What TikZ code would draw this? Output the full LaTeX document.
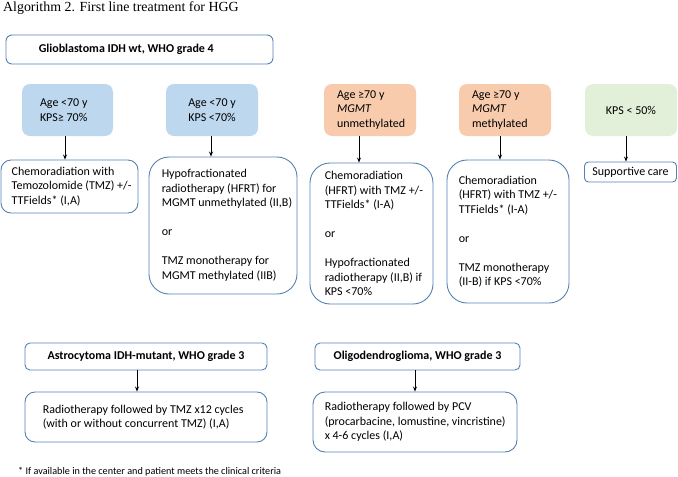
\documentclass[tikz,border=0pt]{standalone}
\usepackage{fontspec}
\setmainfont{Carlito}
\newfontfamily\timesf{Liberation Serif}
\usetikzlibrary{arrows.meta}
\definecolor{bord}{RGB}{84,128,178}
\definecolor{bluef}{RGB}{189,215,238}
\definecolor{orangef}{RGB}{248,203,173}
\definecolor{greenf}{RGB}{226,240,217}
\begin{document}
\begin{tikzpicture}[x=1pt,y=-1pt,
  every node/.style={font=\fontsize{12}{14.5}\selectfont, inner sep=0pt},
  box/.style={draw=bord, line width=0.9pt, rounded corners=#1},
  box/.default=5pt,
  cond/.style={rounded corners=8pt, draw=none, fill=#1},
  txt/.style={align=left, anchor=west},
  hdr/.style={font=\fontsize{12}{14.5}\selectfont\bfseries},
  arr/.style={-{Stealth[length=5pt,width=4pt]}, line width=0.8pt, black},
]
\useasboundingbox (0,0) rectangle (678,477);

% title
\node[anchor=base west, font=\fontsize{13.9}{16}\selectfont\timesf] (title) at (3,11.5) {Algorithm 2. First line treatment for HGG};

% Glioblastoma header
\node[box=6pt, minimum width=267pt, minimum height=29pt] (glio) at (139.5,49.5) {};
\node[txt, hdr] (gliot) at ([xshift=33pt]glio.west) {Glioblastoma IDH wt, WHO grade 4};

% condition boxes
\node[cond=bluef, minimum width=91pt, minimum height=52pt] (c1) at (67.5,110) {};
\node[txt] (c1t) at ([xshift=18pt]c1.west) {Age <70 y\\KPS≥ 70\%};
\node[cond=bluef, minimum width=92pt, minimum height=52pt, align=center] (c2) at (212,110) {Age <70 y\\KPS <70\%};
\node[cond=orangef, minimum width=92pt, minimum height=52pt] (c3) at (370,110) {};
\node[txt] (c3t) at ([xshift=13pt]c3.west) {Age ≥70 y\\\textit{MGMT}\\unmethylated};
\node[cond=orangef, minimum width=92pt, minimum height=52pt] (c4) at (505,110) {};
\node[txt] (c4t) at ([xshift=13pt]c4.west) {Age ≥70 y\\\textit{MGMT}\\methylated};
\node[cond=greenf, minimum width=92pt, minimum height=52pt] (c5) at (631,110) {KPS < 50\%};

% result boxes
\node[box=10pt, minimum width=137pt, minimum height=53pt] (r1) at (69.5,186.5) {};
\node[txt] (r1t) at ([xshift=11pt]r1.west) {Chemoradiation with\\Temozolomide (TMZ) +/-\\TTFields* (I,A)};

\node[box=20pt, minimum width=148pt, minimum height=137pt] (r2) at (223,225.5) {};
\node[txt] (r2t) at ([xshift=13pt]r2.west) {Hypofractionated\\radiotherapy (HFRT) for\\MGMT unmethylated (II,B)\\[14.5pt]or\\[14.5pt]TMZ monotherapy for\\MGMT methylated (IIB)};

\node[box=20pt, minimum width=123pt, minimum height=141pt] (r3) at (371.5,233.5) {};
\node[txt] (r3t) at ([xshift=15pt]r3.west) {Chemoradiation\\(HFRT) with TMZ +/-\\TTFields* (I-A)\\[14.5pt]or\\[14.5pt]Hypofractionated\\radiotherapy (II,B) if\\KPS <70\%};

\node[box=20pt, minimum width=122pt, minimum height=143pt] (r4) at (508,231.5) {};
\node[txt] (r4t) at ([xshift=12pt]r4.west) {Chemoradiation\\(HFRT) with TMZ +/-\\TTFields* (I-A)\\[14.5pt]or\\[14.5pt]TMZ monotherapy\\(II-B) if KPS <70\%};

\node[box=4pt, minimum width=92pt, minimum height=20pt] (r5) at (630.5,172) {Supportive care};

% arrows top
\draw[arr] ([xshift=-2.5pt]c1.south) -- ([xshift=-2.5pt]c1.south |- r1.north);
\draw[arr] ([xshift=-1pt]c2.south) -- ([xshift=-1pt]c2.south |- r2.north);
\draw[arr] ([xshift=-11pt]c3.south) -- ([xshift=-11pt]c3.south |- r3.north);
\draw[arr] ([xshift=-5pt]c4.south) -- ([xshift=-5pt]c4.south |- r4.north);
\draw[arr] ([xshift=-5pt]c5.south) -- ([xshift=-5pt]c5.south |- r5.north);

% bottom section
\node[box=5pt, minimum width=242pt, minimum height=27pt, hdr] (astro) at (146,356.5) {Astrocytoma IDH-mutant, WHO grade 3};
\node[box=5pt, minimum width=205pt, minimum height=27pt, hdr] (oligo) at (417.5,356.5) {Oligodendroglioma, WHO grade 3};

\node[box=10pt, minimum width=242pt, minimum height=50pt] (ra) at (146,417) {};
\node[txt] (rat) at ([xshift=18pt]ra.west) {Radiotherapy followed by TMZ x12 cycles\\(with or without concurrent TMZ) (I,A)};

\node[box=12pt, minimum width=204pt, minimum height=60pt] (ro) at (415,422) {};
\node[txt] (rot) at ([xshift=12pt]ro.west) {Radiotherapy followed by PCV\\(procarbacine, lomustine, vincristine)\\x 4-6 cycles (I,A)};

\draw[arr] ([xshift=-9pt]astro.south) -- ([xshift=-9pt]astro.south |- ra.north);
\draw[arr] ([xshift=-2.5pt]oligo.south) -- ([xshift=-2.5pt]oligo.south |- ro.north);

% footnote
\node[anchor=west, font=\fontsize{10.2}{12}\selectfont] (foot) at (18,471.5) {* If available in the center and patient meets the clinical criteria};
\end{tikzpicture}
\end{document}
